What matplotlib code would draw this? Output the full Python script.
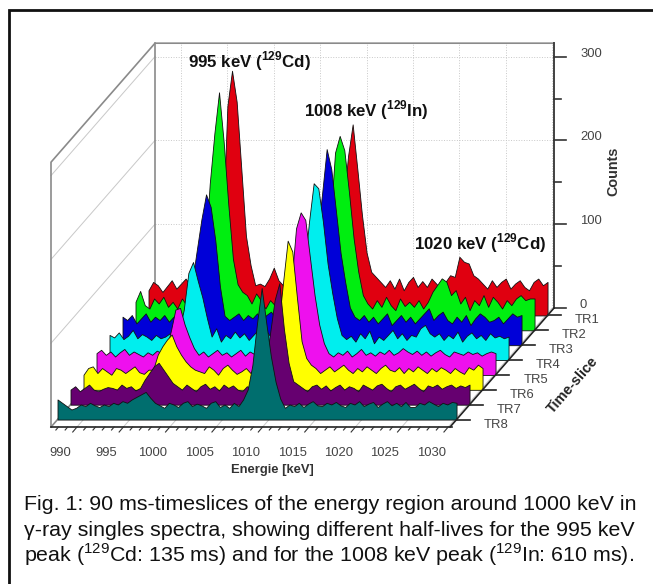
import matplotlib
matplotlib.use("Agg")
import matplotlib.pyplot as plt
import numpy as np
from matplotlib.transforms import Affine2D

plt.rcParams['font.family'] = ['Liberation Sans', 'DejaVu Sans']
plt.rcParams['mathtext.fontset'] = 'custom'
plt.rcParams['mathtext.rm'] = 'Liberation Sans'
plt.rcParams['mathtext.bf'] = 'Liberation Sans:bold'

# counts per slice, 0.5 keV channels starting at 987.2 keV
tr1 = [30,40,36,28,35,42,32,38,44,36,
       41,33,38,46,37,42,100,250,292,255,
       175,95,60,36,38,35,44,57,42,36,
       40,45,36,44,50,38,46,44,50,70,
       45,70,130,190,228,175,120,75,52,46,
       40,34,42,32,44,30,40,46,34,41,
       34,44,38,32,40,48,46,70,64,62,
       48,44,38,32,42,34,40,44,32,38,
       42,34,30,40,44,36,40]
tr2 = [34,47,30,26,38,32,40,28,34,26,
       38,30,32,26,40,90,175,235,284,225,
       150,85,55,46,42,32,44,36,26,36,
       30,38,28,34,40,30,36,42,38,46,
       60,90,130,212,232,215,165,110,70,42,
       32,26,36,28,40,30,24,38,29,34,
       28,36,26,34,46,54,62,58,42,48,
       32,40,24,36,30,42,28,40,34,26,
       36,30,38,42,36,38,38]
tr3 = [34,30,36,26,32,38,28,34,30,36,
       28,34,38,30,42,75,113,150,180,165,
       125,70,35,30,34,38,30,36,32,38,
       30,36,40,32,38,34,42,36,44,52,
       60,70,130,180,234,210,160,110,75,45,
       34,30,36,28,34,26,32,38,24,30,
       36,28,34,26,32,38,44,30,36,40,
       30,26,34,28,36,24,32,38,34,28,
       30,34,26,32,38,34,36]
tr4 = [30,27,33,25,29,36,26,31,28,24,
       30,26,28,32,24,35,60,104,117,95,
       75,50,28,38,22,30,26,34,27,32,
       24,30,36,28,33,26,31,35,29,33,
       40,55,110,165,211,205,165,115,80,50,
       30,25,29,22,32,26,35,20,28,24,
       30,36,26,32,24,30,28,38,42,32,
       28,32,24,30,26,34,22,29,33,26,
       30,24,32,27,29,26,28]
tr5 = [26,30,24,28,22,27,31,24,28,25,
       22,27,24,29,26,30,52,78,80,60,
       45,32,24,28,22,26,30,24,27,22,
       26,30,23,28,25,30,24,27,32,36,
       42,60,110,175,194,185,140,95,60,38,
       26,22,27,24,29,22,26,31,24,27,
       23,28,25,30,24,27,32,28,25,29,
       24,28,23,27,30,25,22,28,26,24,
       28,25,27,23,26,28,26]
tr6 = [18,26,28,20,26,22,18,26,24,20,
       24,28,21,19,24,24,42,52,60,66,
       52,42,34,28,24,22,20,28,24,18,
       26,30,24,19,22,26,20,28,24,30,
       24,35,75,128,178,165,110,58,38,30,
       26,20,24,28,22,26,30,24,20,26,
       22,28,24,20,26,30,24,22,27,20,
       26,22,28,24,20,26,22,27,24,20,
       26,22,19,27,24,30,26]
tr7 = [18,22,16,20,24,18,16,19,21,20,
       18,24,20,22,17,20,30,38,46,50,
       42,34,26,22,18,24,20,16,22,25,
       19,22,17,24,20,23,18,16,22,20,
       24,30,45,85,125,145,90,50,28,24,
       20,16,22,24,19,23,17,21,24,18,
       22,20,16,24,21,18,23,25,20,16,
       22,24,19,22,25,20,16,23,21,24,
       19,22,24,20,23,21,24]
tr8 = [24,20,16,12,14,18,16,20,17,15,
       18,16,20,18,22,20,24,27,30,33,
       26,20,17,14,20,18,15,20,22,16,
       19,17,14,20,22,15,18,14,20,16,
       24,36,65,115,157,115,75,45,25,14,
       18,16,20,15,19,22,17,16,20,18,
       21,17,15,20,18,22,16,19,21,15,
       19,22,17,20,16,21,15,15,20,18,
       22,19,16,20,18,21,20]

slices = [tr1, tr2, tr3, tr4, tr5, tr6, tr7, tr8]
slice_names = ['TR1', 'TR2', 'TR3', 'TR4', 'TR5', 'TR6', 'TR7', 'TR8']
slice_colors = ['#e00010', '#00ee10', '#0000d8', '#00eeee', '#ee10ee', '#ffff00', '#660070', '#006e6e']
energy_ticks = [990, 995, 1000, 1005, 1010, 1015, 1020, 1025, 1030]
count_ticks = [0, 100, 200, 300]

E_MIN, E_MAX = 987.2, 1030.2
PX_KEV, PX_COUNT = 9.28, 0.838
DEPTH_X, DEPTH_Y = 104, 119

fig = plt.figure(figsize=(6.53, 5.84), dpi=100)
ax = fig.add_axes([0, 0, 1, 1])
ax.set_xlim(0, 653)
ax.set_ylim(584, 0)
ax.axis('off')


def sx(energy, depth=0.0):
    return 51 + (energy - E_MIN) * PX_KEV + DEPTH_X * depth


def sy(counts, depth=0.0):
    return 427 - counts * PX_COUNT - DEPTH_Y * depth


def slice_transform(depth):
    # (energy, counts) -> picture pixels for a slice at some depth
    return Affine2D.from_values(PX_KEV, 0, 0, -PX_COUNT, sx(0, depth), sy(0, depth)) + ax.transData


# outer frame, only left and top are in the picture
ax.plot([9, 9, 653], [584, 10, 10], color='#111111', lw=2, solid_joinstyle='miter')

# walls and grid
wall = '#8a8a8a'
grid = '#c8c8c8'
for e in energy_ticks:
    ax.plot([sx(e, 1), sx(e, 1)], [sy(0, 1), sy(320, 1) + 3], color=grid, lw=0.7, ls=':', zorder=1)
    ax.plot([sx(e, 0), sx(e, 1)], [sy(0, 0), sy(0, 1)], color=grid, lw=0.7, zorder=1)
for c in count_ticks[1:]:
    ax.plot([sx(E_MIN, 1), sx(E_MAX, 1)], [sy(c, 1), sy(c, 1)], color=grid, lw=0.7, ls=':', zorder=1)
    ax.plot([sx(E_MIN, 0), sx(E_MIN, 1)], [sy(c, 0), sy(c, 1)], color=grid, lw=0.7, zorder=1)

top = 316
ax.plot([sx(E_MIN, 0), sx(E_MIN, 0), sx(E_MIN, 1), sx(E_MAX, 1), sx(E_MAX, 1)],
        [sy(0, 0), sy(top, 0), sy(top, 1), sy(top, 1), sy(0, 1)], color=wall, lw=1.2, zorder=2)
ax.plot([sx(E_MIN, 1), sx(E_MIN, 1)], [sy(top, 1), sy(0, 1)], color=wall, lw=1.2, zorder=2)
ax.plot([sx(E_MIN, 0), sx(E_MIN, 1)], [sy(0, 0), sy(0, 1)], color=wall, lw=1.2, zorder=2)
ax.plot([sx(E_MAX, 1), sx(E_MAX, 1)], [sy(top, 1), sy(0, 1)], color='#444444', lw=1.4, zorder=2)

# the spectra, back to front
energies = E_MIN + 0.5 * np.arange(len(tr1))
for i, (vals, col) in enumerate(zip(slices, slice_colors)):
    depth = (7.5 - i) / 8
    ax.fill_between(energies, 0, vals, facecolor=col, edgecolor='#111111', lw=0.6,
                    transform=slice_transform(depth), zorder=3 + i)

# count axis
for c in np.arange(0, 301, 50):
    ln = 12 if c % 100 == 0 else 7
    ax.plot([sx(E_MAX, 1), sx(E_MAX, 1) + ln], [sy(c, 1), sy(c, 1)], color='#333333', lw=1.2, zorder=12)
for c in count_ticks:
    xt = 583 if c == 0 else 591
    ax.text(xt, sy(c, 1) - 3, str(c), ha='center', va='center', fontsize=9.4, color='#444444')
ax.text(613, 171, 'Counts', rotation=90, ha='center', va='center', fontsize=10.4,
        fontweight='bold', color='#333333')

# energy axis
ax.plot([sx(E_MIN, 0), sx(E_MAX, 0) + 2], [sy(0, 0), sy(0, 0)], color='#222222', lw=1.2, zorder=12)
for e in np.arange(988, 1031):
    d = 5 if e % 5 == 0 else 3
    ax.plot([sx(e), sx(e) - d * 0.85], [sy(0), sy(0) + d], color='#333333', lw=0.8, zorder=12)
for e in energy_ticks:
    ax.text(sx(e) - 17, 453, str(e), ha='center', va='center', fontsize=9.4, color='#444444')
ax.text(272, 470, 'Energie [keV]', ha='center', va='center', fontsize=9.4,
        fontweight='bold', color='#333333')

# time-slice axis
ax.plot([sx(E_MAX, 0), sx(E_MAX, 1)], [sy(0, 0), sy(0, 1)], color='#222222', lw=1.2, zorder=12)
for i, name in enumerate(slice_names):
    depth = (7.5 - i) / 8
    x0, y0 = sx(E_MAX, depth), sy(0, depth)
    ax.plot([x0, x0 + 13], [y0, y0], color='#222222', lw=1.2, zorder=12)
    ax.text(x0 + 40, y0 + 5, name, ha='center', va='center', fontsize=9.4, color='#444444')
ax.text(573, 385, 'Time-slice', rotation=49, ha='center', va='center', fontsize=10.4,
        fontweight='bold', color='#222222', rotation_mode='anchor')

# peak labels
peak_labels = ['995 keV ($^{\\mathregular{129}}$Cd)', '1008 keV ($^{\\mathregular{129}}$In)',
               '1020 keV ($^{\\mathregular{129}}$Cd)']
peak_pos = [(249, 61), (366, 110), (480, 243)]
for label, (x, y) in zip(peak_labels, peak_pos):
    ax.text(x, y, label, ha='center', va='center', fontsize=12.2, fontweight='bold',
            color='#111111', zorder=15)

# caption
caption = ['Fig. 1: 90 ms-timeslices of the energy region around 1000 keV in',
           '\u03b3-ray singles spectra, showing different half-lives for the 995 keV',
           'peak ($^{\\mathregular{129}}$Cd: 135 ms) and for the 1008 keV peak ($^{\\mathregular{129}}$In: 610 ms).']
for line, y in zip(caption, [505, 530, 555]):
    ax.text(24, y, line, ha='left', va='center', fontsize=15.4, color='#111111')

fig.savefig('out.png', dpi=100)
